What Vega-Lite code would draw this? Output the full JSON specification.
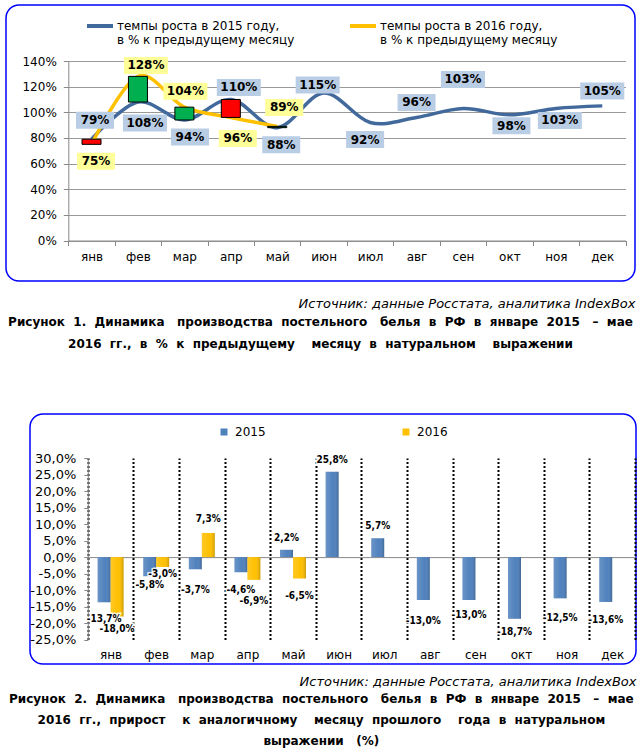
{
  "$schema": "https://vega.github.io/schema/vega-lite/v6.json",
  "background": "white",
  "padding": {"left": 5, "top": 4, "right": 0, "bottom": 0},
  "spacing": 62,
  "resolve": {"scale": {"color": "independent"}, "legend": {"color": "independent"}},
  "config": {
    "font": "DejaVu Sans",
    "locale": {"number": {"decimal": ",", "thousands": " ", "grouping": [3], "currency": ["", ""], "minus": "-"}},
    "view": {"stroke": "#0000ff", "strokeWidth": 1.5, "cornerRadius": 13},
    "axis": {"labelColor": "#000000", "domainColor": "#888888", "tickColor": "#888888", "labelFont": "DejaVu Sans", "titleFont": "DejaVu Sans", "labelOverlap": false},
    "legend": {"labelFont": "DejaVu Sans", "labelColor": "#000000"},
    "title": {"font": "DejaVu Sans"}
  },
  "vconcat": [
    {
      "width": 629,
      "height": 276,
      "title": {
        "text": ["Рисунок\u00a0 1.\u00a0 Динамика\u00a0\u00a0 производства\u00a0 постельного\u00a0\u00a0 белья\u00a0 в\u00a0 РФ\u00a0 в\u00a0 январе\u00a0 2015\u00a0\u00a0 –\u00a0 мае", "2016\u00a0 гг.,\u00a0 в\u00a0 %\u00a0 к\u00a0 предыдущему\u00a0\u00a0\u00a0 месяцу\u00a0 в\u00a0 натуральном\u00a0\u00a0\u00a0 выражении"],
        "orient": "bottom", "anchor": "middle", "fontSize": 12, "fontWeight": "bold", "color": "black", "lineHeight": 22, "offset": 7
      },
      "data": {"values": [
        {"m": "янв", "y2015": 0.79, "y2016": 0.75},
        {"m": "фев", "y2015": 1.08, "y2016": 1.28},
        {"m": "мар", "y2015": 0.94, "y2016": 1.04},
        {"m": "апр", "y2015": 1.10, "y2016": 0.96},
        {"m": "май", "y2015": 0.88, "y2016": 0.89},
        {"m": "июн", "y2015": 1.15},
        {"m": "июл", "y2015": 0.92},
        {"m": "авг", "y2015": 0.96},
        {"m": "сен", "y2015": 1.03},
        {"m": "окт", "y2015": 0.98},
        {"m": "ноя", "y2015": 1.03},
        {"m": "дек", "y2015": 1.05}
      ]},
      "encoding": {
        "x": {
          "field": "m", "type": "ordinal",
          "sort": ["янв","фев","мар","апр","май","июн","июл","авг","сен","окт","ноя","дек"],
          "scale": {"range": [62.3, 619.5], "paddingInner": 0, "paddingOuter": 0},
          "axis": {
            "orient": "bottom", "offset": -40.5, "labelAngle": 0, "labelFontSize": 12,
            "tickBand": "extent", "tickSize": 5, "labelPadding": 6, "grid": false,
            "title": "Источник: данные Росстата, аналитика IndexBox",
            "titleFontSize": 13, "titleFontStyle": "italic", "titleFontWeight": "normal", "titleColor": "black",
            "titleAlign": "right", "titleBaseline": "middle", "titleX": 629, "titleY": 62.5
          }
        }
      },
      "layer": [
        {
          "transform": [{"fold": ["y2015", "y2016"], "as": ["s", "v"]}, {"filter": "isValid(datum.v)"}],
          "mark": {"type": "line", "interpolate": "cardinal", "strokeWidth": 3.5},
          "encoding": {
            "y": {
              "field": "v", "type": "quantitative",
              "scale": {"domain": [0, 1.4], "range": [235.5, 56], "nice": false},
              "axis": {"orient": "left", "offset": -62.3, "values": [0, 0.2, 0.4, 0.6, 0.8, 1, 1.2, 1.4], "tickCount": 30, "format": ".0%", "labelFontSize": 12, "tickSize": 5, "labelPadding": 7, "grid": true, "gridColor": "#999999", "title": null, "labelOverlap": false}
            },
            "color": {
              "field": "s", "type": "nominal",
              "scale": {"domain": ["y2015", "y2016"], "range": ["#41699b", "#ffc000"]},
              "legend": {
                "orient": "none", "legendX": 79, "legendY": 6, "direction": "horizontal", "columns": 2, "columnPadding": 47,
                "title": null, "symbolType": "stroke", "symbolSize": 676, "symbolStrokeWidth": 4,
                "labelFontSize": 12, "labelLimit": 400, "labelOffset": 2,
                "labelExpr": "datum.value == 'y2015' ? ['темпы роста в 2015 году,', '\u00a0в % к предыдущему месяцу'] : ['темпы роста в 2016 году,', 'в % к предыдущему месяцу']"
              }
            }
          }
        },
        {
          "transform": [{"filter": "isValid(datum.y2016)"}],
          "mark": {"type": "bar", "width": 19, "stroke": "black", "strokeWidth": 1},
          "encoding": {
            "y": {"field": "y2015", "type": "quantitative"},
            "y2": {"field": "y2016"},
            "color": {"condition": {"test": "datum.y2016 > datum.y2015", "value": "#00b050"}, "value": "#ff0000"}
          }
        },
        {
          "mark": {
            "type": "bar", "color": "#b9cde5",
            "width": {"expr": "datum.y2015 >= 1 ? 44 : 38"},
            "xOffset": {"expr": "[3.5,7,5.6,8,4,-6,-5,0,0,2,4,0][indexof(['янв','фев','мар','апр','май','июн','июл','авг','сен','окт','ноя','дек'], datum.m)]"},
            "yOffset": {"expr": "[-19,21,17,-12,17,-8,17,-15,-29,11,12,-15][indexof(['янв','фев','мар','апр','май','июн','июл','авг','сен','окт','ноя','дек'], datum.m)] - 8.5"},
            "y2Offset": {"expr": "[-19,21,17,-12,17,-8,17,-15,-29,11,12,-15][indexof(['янв','фев','мар','апр','май','июн','июл','авг','сен','окт','ноя','дек'], datum.m)] + 8.5"}
          },
          "encoding": {
            "y": {"field": "y2015", "type": "quantitative"},
            "y2": {"field": "y2015"}
          }
        },
        {
          "mark": {
            "type": "text", "fontWeight": "bold", "fontSize": 12, "baseline": "middle", "color": "black",
            "xOffset": {"expr": "[3.5,7,5.6,8,4,-6,-5,0,0,2,4,0][indexof(['янв','фев','мар','апр','май','июн','июл','авг','сен','окт','ноя','дек'], datum.m)]"},
            "yOffset": {"expr": "[-19,21,17,-12,17,-8,17,-15,-29,11,12,-15][indexof(['янв','фев','мар','апр','май','июн','июл','авг','сен','окт','ноя','дек'], datum.m)]"}
          },
          "encoding": {
            "y": {"field": "y2015", "type": "quantitative"},
            "text": {"field": "y2015", "type": "quantitative", "format": ".0%"}
          }
        },
        {
          "transform": [{"filter": "isValid(datum.y2016)"}],
          "mark": {
            "type": "bar", "color": "#ffff99",
            "width": {"expr": "datum.y2016 >= 1 ? 44 : 38"},
            "xOffset": {"expr": "[4.5,8,1,7,7][indexof(['янв','фев','мар','апр','май'], datum.m)]"},
            "yOffset": {"expr": "[17,-11,-16,21,-19][indexof(['янв','фев','мар','апр','май'], datum.m)] - 8.5"},
            "y2Offset": {"expr": "[17,-11,-16,21,-19][indexof(['янв','фев','мар','апр','май'], datum.m)] + 8.5"}
          },
          "encoding": {
            "y": {"field": "y2016", "type": "quantitative"},
            "y2": {"field": "y2016"}
          }
        },
        {
          "transform": [{"filter": "isValid(datum.y2016)"}],
          "mark": {
            "type": "text", "fontWeight": "bold", "fontSize": 12, "baseline": "middle", "color": "black",
            "xOffset": {"expr": "[4.5,8,1,7,7][indexof(['янв','фев','мар','апр','май'], datum.m)]"},
            "yOffset": {"expr": "[17,-11,-16,21,-19][indexof(['янв','фев','мар','апр','май'], datum.m)]"}
          },
          "encoding": {
            "y": {"field": "y2016", "type": "quantitative"},
            "text": {"field": "y2016", "type": "quantitative", "format": ".0%"}
          }
        }
      ]
    },
    {
      "title": {
        "text": ["Рисунок\u00a0 2.\u00a0 Динамика\u00a0\u00a0 производства\u00a0 постельного\u00a0\u00a0 белья\u00a0 в\u00a0 РФ\u00a0 в\u00a0 январе\u00a0 2015\u00a0\u00a0 –\u00a0 мае", "2016\u00a0 гг.,\u00a0 прирост\u00a0\u00a0\u00a0 к\u00a0 аналогичному\u00a0\u00a0\u00a0 месяцу\u00a0 прошлого\u00a0\u00a0\u00a0 года\u00a0 в\u00a0 натуральном", "выражении\u00a0\u00a0 (%)"],
        "orient": "bottom", "anchor": "middle", "fontSize": 12, "fontWeight": "bold", "color": "black", "lineHeight": 21, "offset": 5
      },
      "spacing": 0,
      "hconcat": [
        {
          "width": 23, "height": 250,
          "view": {"stroke": null},
          "data": {"values": []},
          "mark": "point",
          "encoding": {}
        },
        {
          "width": 606,
          "height": 250,
          "data": {"values": [
            {"m": "янв", "s": "2015", "v": -0.137},
            {"m": "янв", "s": "2016", "v": -0.180},
            {"m": "фев", "s": "2015", "v": -0.058},
            {"m": "фев", "s": "2016", "v": -0.030},
            {"m": "мар", "s": "2015", "v": -0.037},
            {"m": "мар", "s": "2016", "v": 0.073},
            {"m": "апр", "s": "2015", "v": -0.046},
            {"m": "апр", "s": "2016", "v": -0.069},
            {"m": "май", "s": "2015", "v": 0.022},
            {"m": "май", "s": "2016", "v": -0.065},
            {"m": "июн", "s": "2015", "v": 0.258},
            {"m": "июл", "s": "2015", "v": 0.057},
            {"m": "авг", "s": "2015", "v": -0.130},
            {"m": "сен", "s": "2015", "v": -0.130},
            {"m": "окт", "s": "2015", "v": -0.187},
            {"m": "ноя", "s": "2015", "v": -0.125},
            {"m": "дек", "s": "2015", "v": -0.136}
          ]},
          "encoding": {
            "x": {
              "field": "m", "type": "ordinal",
              "sort": ["янв","фев","мар","апр","май","июн","июл","авг","сен","окт","ноя","дек"],
              "scale": {"range": [57.8, 605], "paddingInner": 0, "paddingOuter": 0},
              "axis": {
                "orient": "top", "offset": -143.1, "labelAngle": 0, "labelFontSize": 12,
                "ticks": false, "tickSize": 0, "labelPadding": -104, "labelBaseline": "bottom", "domain": true, "domainColor": "#888888",
                "grid": true, "gridColor": "black", "gridDash": [2, 2], "gridWidth": 2, "tickBand": "extent",
                "title": "Источник: данные Росстата, аналитика IndexBox",
                "titleFontSize": 13, "titleFontStyle": "italic", "titleFontWeight": "normal", "titleColor": "black",
                "titleAlign": "right", "titleBaseline": "middle", "titleX": 606, "titleY": 124.2
              }
            },
            "xOffset": {"field": "s", "type": "nominal", "scale": {"domain": ["2015", "2016"], "paddingInner": 0, "paddingOuter": 0.76}}
          },
          "layer": [
            {
              "mark": {"type": "bar"},
              "encoding": {
                "y": {
                  "field": "v", "type": "quantitative",
                  "scale": {"domain": [-0.25, 0.3], "range": [225.6, 44], "nice": false},
                  "axis": {"orient": "left", "offset": -57.8, "values": [-0.25, -0.2, -0.15, -0.1, -0.05, 0, 0.05, 0.1, 0.15, 0.2, 0.25, 0.3], "tickCount": 30, "format": ".1%", "labelFontSize": 13, "tickSize": 4, "labelPadding": 8, "grid": false, "title": null, "labelOverlap": false}
                },
                "color": {
                  "field": "s", "type": "nominal",
                  "scale": {"domain": ["2015", "2016"], "range": ["#4f81bd", "#ffc000"]},
                  "legend": {
                    "orient": "none", "legendX": 212, "legendY": 12, "direction": "horizontal", "columns": 2, "columnPadding": 134,
                    "title": null, "symbolType": "square", "symbolSize": 49, "symbolStrokeWidth": 0,
                    "labelFontSize": 12, "labelOffset": 5
                  }
                }
              }
            },
            {
              "mark": {
                "type": "bar",
                "fill": {"gradient": "linear", "x1": 0, "x2": 1, "y1": 0, "y2": 0, "stops": [
                  {"offset": 0, "color": "rgba(255,255,255,0.15)"},
                  {"offset": 0.6, "color": "rgba(255,255,255,0)"},
                  {"offset": 1, "color": "rgba(0,0,0,0.2)"}
                ]}
              },
              "encoding": {
                "y": {"field": "v", "type": "quantitative"}
              }
            },
            {
              "mark": {
                "type": "text", "font": "DejaVu Sans Condensed", "fontWeight": "bold", "fontSize": 10, "baseline": "middle",
                "stroke": "white", "strokeWidth": 3, "strokeOpacity": 0.85, "fill": "white",
                "yOffset": {"expr": "datum.s == '2015' ? [17,9,21,18,-12,-12,-12,21,15,13,20,18][indexof(['янв','фев','мар','апр','май','июн','июл','авг','сен','окт','ноя','дек'], datum.m)] : [12.6,7,-14,21,17][indexof(['янв','фев','мар','апр','май'], datum.m)]"}
              },
              "encoding": {
                "y": {"field": "v", "type": "quantitative"},
                "text": {"field": "v", "type": "quantitative", "format": ".1%"}
              }
            },
            {
              "mark": {
                "type": "text", "font": "DejaVu Sans Condensed", "fontWeight": "bold", "fontSize": 10, "baseline": "middle", "color": "black",
                "yOffset": {"expr": "datum.s == '2015' ? [17,9,21,18,-12,-12,-12,21,15,13,20,18][indexof(['янв','фев','мар','апр','май','июн','июл','авг','сен','окт','ноя','дек'], datum.m)] : [12.6,7,-14,21,17][indexof(['янв','фев','мар','апр','май'], datum.m)]"}
              },
              "encoding": {
                "y": {"field": "v", "type": "quantitative"},
                "text": {"field": "v", "type": "quantitative", "format": ".1%"}
              }
            }
          ]
        }
      ]
    }
  ]
}
